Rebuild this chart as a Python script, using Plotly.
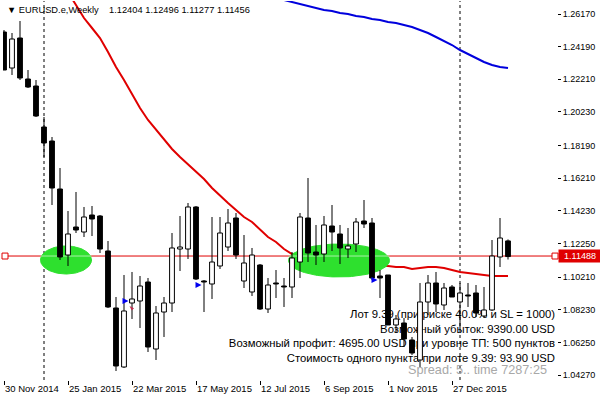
import numpy as np
import plotly.graph_objects as go

# ---------------- data ----------------
candle_index = list(range(64))
opens = [1.25078, 1.22894, 1.24714, 1.22227, 1.21802, 1.19315, 1.18466, 1.15554, 1.11551, 1.13249,
         1.12946, 1.13977, 1.13917, 1.11794, 1.08336, 1.04757, 1.08639, 1.08761, 1.09913, 1.05849,
         1.08093, 1.08639, 1.11915, 1.11915, 1.14463, 1.09974, 1.09792, 1.10884, 1.12036, 1.13795,
         1.09974, 1.09307, 1.10944, 1.08275, 1.09853, 1.09670, 1.09610, 1.11126, 1.13795, 1.11733,
         1.11612, 1.13310, 1.12825, 1.11915, 1.12218, 1.13613, 1.13492, 1.10277, 1.10338, 1.07305,
         1.07426, 1.06395, 1.05182, 1.08700, 1.09853, 1.08518, 1.09610, 1.08700, 1.09125, 1.09246,
         1.07851, 1.08215, 1.11430, 1.12404]
highs = [1.25199, 1.25017, 1.25745, 1.22773, 1.22166, 1.19922, 1.18709, 1.16828, 1.14220, 1.15373,
         1.14463, 1.14523, 1.13977, 1.12400, 1.09003, 1.10338, 1.10520, 1.10277, 1.10156, 1.08457,
         1.09003, 1.12885, 1.13917, 1.14705, 1.14523, 1.10034, 1.13856, 1.13856, 1.14341, 1.14099,
         1.12764, 1.11976, 1.11005, 1.10156, 1.10641, 1.10156, 1.11733, 1.14099, 1.16222, 1.13371,
         1.13917, 1.14584, 1.13371, 1.13189, 1.13795, 1.14887, 1.13795, 1.10641, 1.10338, 1.07911,
         1.07729, 1.06577, 1.09853, 1.10338, 1.10520, 1.09853, 1.09731, 1.09853, 1.09853, 1.09731,
         1.09610, 1.12461, 1.13795, 1.12496]
lows = [1.22833, 1.22470, 1.22166, 1.21681, 1.19922, 1.17496, 1.14584, 1.11248, 1.10884, 1.12885,
        1.12643, 1.12703, 1.11672, 1.08336, 1.04514, 1.04696, 1.07669, 1.07123, 1.05667, 1.05182,
        1.06577, 1.08093, 1.10580, 1.11308, 1.10034, 1.08093, 1.08882, 1.10702, 1.11794, 1.11308,
        1.09549, 1.09064, 1.08215, 1.08033, 1.08943, 1.08397, 1.08943, 1.10156, 1.11126, 1.10944,
        1.11126, 1.11794, 1.11005, 1.11369, 1.11733, 1.13189, 1.10034, 1.08943, 1.07305, 1.06819,
        1.05970, 1.05485, 1.04757, 1.07911, 1.08093, 1.08215, 1.09003, 1.07001, 1.08397, 1.07790,
        1.07729, 1.08154, 1.10823, 1.11277]
closes = [1.22773, 1.24654, 1.22288, 1.21742, 1.19983, 1.18345, 1.15615, 1.11430, 1.12825, 1.13067,
          1.13856, 1.13735, 1.11915, 1.08397, 1.04818, 1.08154, 1.08882, 1.09670, 1.05970, 1.08033,
          1.08639, 1.11976, 1.12036, 1.14463, 1.10095, 1.09913, 1.11126, 1.12885, 1.13492, 1.11551,
          1.11066, 1.11551, 1.08275, 1.09731, 1.09792, 1.09610, 1.11369, 1.13856, 1.11672, 1.11551,
          1.13371, 1.12946, 1.11976, 1.12097, 1.13553, 1.13431, 1.10156, 1.10156, 1.07305, 1.07669,
          1.06455, 1.05606, 1.08700, 1.09853, 1.08579, 1.09549, 1.09003, 1.09246, 1.09064, 1.08033,
          1.08215, 1.11490, 1.12582, 1.11456]

ma_red_index = list(range(8, 64))
ma_red = [1.27500, 1.26716, 1.25927, 1.25321, 1.24714, 1.23865, 1.22955, 1.22166, 1.21317, 1.20468,
          1.19740, 1.19133, 1.18527, 1.17981, 1.17496, 1.17071, 1.16646, 1.16161, 1.15615, 1.15130,
          1.14705, 1.14281, 1.13856, 1.13553, 1.13128, 1.12643, 1.12339, 1.11915, 1.11612, 1.11430,
          1.11308, 1.11248, 1.11187, 1.11126, 1.11066, 1.11066, 1.11005, 1.11005, 1.10944, 1.10884,
          1.10884, 1.10823, 1.10823, 1.10702, 1.10762, 1.10823, 1.10823, 1.10762, 1.10641, 1.10520,
          1.10459, 1.10398, 1.10338, 1.10277, 1.10277, 1.10277]

ma_blue_index = list(range(35, 64))
ma_blue = [1.27019, 1.26898, 1.26777, 1.26655, 1.26534, 1.26413, 1.26352, 1.26231, 1.26170, 1.26049,
           1.25988, 1.25867, 1.25806, 1.25685, 1.25624, 1.25503, 1.25381, 1.25199, 1.25017, 1.24775,
           1.24532, 1.24289, 1.23986, 1.23743, 1.23501, 1.23258, 1.23076, 1.22955, 1.22894]

bid_price = 1.11488
y_tick_values = [1.04270, 1.06250, 1.08230, 1.10210, 1.12250, 1.14230, 1.16210, 1.18190,
                 1.20230, 1.22210, 1.24190, 1.26170]
x_tick_index = [0, 8, 16, 24, 32, 40, 48, 56]
x_tick_labels = ["30 Nov 2014", "25 Jan 2015", "22 Mar 2015", "17 May 2015", "12 Jul 2015",
                 "6 Sep 2015", "1 Nov 2015", "27 Dec 2015"]
separator_index = [5, 57]

signal_index = [15.56, 24.69, 46.69]
signal_price = [1.08761, 1.09731, 1.10034]
exit_index = [15.69]
exit_price = [1.08460]

# zones (centre index, half width, centre price, half height)
zones = [(7.75, 3.19, 1.11248, 0.00850), (41.88, 6.31, 1.11217, 0.01001)]

title_text = "EURUSD.e,Weekly\u00a0\u00a0\u00a0 1.12404 1.12496 1.11277 1.11456"
info_lines = ["Лот 9.39 (при риске 40.0% и SL = 1000)",
              "Возможный убыток: 9390.00 USD",
              "Возможный профит: 4695.00 USD при уровне ТП: 500 пунктов",
              "Стоимость одного пункта при лоте 9.39: 93.90 USD"]
spread_text = "Spread: 5.. time 7287:25"

# ---------------- layout constants ----------------
W, H = 600, 400
ML, MR, MT, MB = 3, 43, 1, 20
PW, PH = W - ML - MR, H - MT - MB
Y_RANGE = [1.03968, 1.26959]
X_RANGE = [-0.125, 69.125]
FONT = "Liberation Sans"

def px_x(px):
    return (px - ML) / PW

def px_y(py):
    return (H - MB - py) / PH

def data_x(px):
    return X_RANGE[0] + (px - ML) / PW * (X_RANGE[1] - X_RANGE[0])

def data_y(py):
    return Y_RANGE[1] - (py - MT) / PH * (Y_RANGE[1] - Y_RANGE[0])

fig = go.Figure()

# info text (drawn underneath the candles, as in the terminal)
fig.add_trace(go.Scatter(x=[data_x(555)] * len(info_lines),
                         y=[data_y(315 + 14.7 * k) for k in range(len(info_lines))],
                         mode="text", text=info_lines, textposition="middle left",
                         textfont=dict(family=FONT, size=11.3, color="black"),
                         hoverinfo="skip", zorder=0))
fig.add_trace(go.Scatter(x=[data_x(547)], y=[data_y(371)], mode="text", text=[spread_text],
                         textposition="middle left",
                         textfont=dict(family=FONT, size=12.7, color="#a8a8a8"),
                         hoverinfo="skip", zorder=0))

# moving averages (below zones)
fig.add_trace(go.Scatter(x=ma_red_index, y=ma_red, mode="lines",
                         line=dict(color="#e00000", width=2), hoverinfo="skip", zorder=0))
fig.add_trace(go.Scatter(x=ma_blue_index, y=ma_blue, mode="lines",
                         line=dict(color="#0000dd", width=2), hoverinfo="skip", zorder=0))

# zones
t = np.linspace(0, 2 * np.pi, 120)
for cx, rx, cy, ry in zones:
    fig.add_trace(go.Scatter(x=cx + rx * np.cos(t), y=cy + ry * np.sin(t), mode="lines",
                             fill="toself", fillcolor="#2ee02e", line=dict(color="#2ee02e", width=1),
                             hoverinfo="skip", zorder=1))
    fig.add_trace(go.Scatter(x=[cx - rx, cx + rx], y=[bid_price, bid_price], mode="lines",
                             line=dict(color="#a8f0a8", width=1), hoverinfo="skip", zorder=2))

# candles: wicks (upper & lower separately) then bodies
wx, wy = [], []
for i, o, h, l, c in zip(candle_index, opens, highs, lows, closes):
    top, bot = max(o, c), min(o, c)
    wx += [i, i, None, i, i, None]
    wy += [top, h, None, l, bot, None]
fig.add_trace(go.Scatter(x=wx, y=wy, mode="lines", line=dict(color="black", width=1),
                         hoverinfo="skip", zorder=3))

min_body = 0.0004
for up in (True, False):
    xs, base, hgt = [], [], []
    for i, o, c in zip(candle_index, opens, closes):
        if (c > o) == up:
            xs.append(i)
            lo = min(o, c)
            hh = max(abs(c - o), min_body)
            base.append(lo)
            hgt.append(hh)
    fig.add_trace(go.Bar(x=xs, y=hgt, base=base, width=0.6,
                         marker=dict(color="white" if up else "black",
                                     line=dict(color="black", width=1)),
                         hoverinfo="skip", zorder=3))

# signal arrows
fig.add_trace(go.Scatter(x=signal_index, y=signal_price, mode="markers",
                         marker=dict(symbol="arrow-right", size=6, color="#0000ee"),
                         hoverinfo="skip", zorder=4))
fig.add_trace(go.Scatter(x=exit_index, y=exit_price, mode="markers",
                         marker=dict(symbol="arrow", angle=-45, size=5, color="#c03050"),
                         hoverinfo="skip", zorder=4))

shapes = []
shapes.append(dict(type="line", xref="paper", yref="y", x0=0, x1=1, y0=bid_price, y1=bid_price,
                   line=dict(color="#e00000", width=1), layer="below"))
for s in separator_index:
    shapes.append(dict(type="line", xref="x", yref="paper", x0=s, x1=s, y0=0, y1=1,
                       line=dict(color="black", width=1, dash="3px,3px"), layer="below"))
for px in (5, 555):
    shapes.append(dict(type="rect", xref="paper", yref="y", x0=px_x(px - 3), x1=px_x(px + 3),
                       y0=bid_price - 0.0018, y1=bid_price + 0.0018,
                       line=dict(color="#e00000", width=1), fillcolor="white", layer="above"))

annotations = []
annotations.append(dict(xref="paper", yref="paper", x=0, y=1, xanchor="left", yanchor="top",
                        xshift=2, yshift=-2, showarrow=False,
                        text="▼ " + title_text, font=dict(family=FONT, size=9.3, color="black")))
for idx, lab in zip(x_tick_index, x_tick_labels):
    annotations.append(dict(xref="x", yref="paper", x=idx, y=0, xanchor="left", yanchor="top",
                            xshift=-1, yshift=-1, showarrow=False, text=lab,
                            font=dict(family=FONT, size=9.5, color="black")))
annotations.append(dict(xref="paper", yref="y", x=1, y=bid_price, xanchor="left", yanchor="middle",
                        xshift=1, showarrow=False, text="1.11488", bgcolor="#e00000",
                        borderpad=1, width=40,
                        font=dict(family=FONT, size=9, color="white")))

fig.update_layout(
    width=W, height=H, margin=dict(l=ML, r=MR, t=MT, b=MB),
    paper_bgcolor="white", plot_bgcolor="white", showlegend=False,
    barmode="overlay", shapes=shapes, annotations=annotations,
    xaxis=dict(range=X_RANGE, showgrid=False, zeroline=False, showline=True, mirror=True,
               linecolor="black", linewidth=1, ticks="outside", ticklen=4, tickcolor="black",
               tickvals=x_tick_index, ticktext=[""] * len(x_tick_index), fixedrange=True),
    yaxis=dict(range=Y_RANGE, side="right", showgrid=False, zeroline=False, showline=True,
               mirror=True, linecolor="black", linewidth=1, ticks="outside", ticklen=3,
               tickcolor="black", tickvals=y_tick_values,
               ticktext=[f"{v:.5f}" for v in y_tick_values],
               tickfont=dict(family=FONT, size=9, color="black"), fixedrange=True),
)

fig.write_html("out.html")
